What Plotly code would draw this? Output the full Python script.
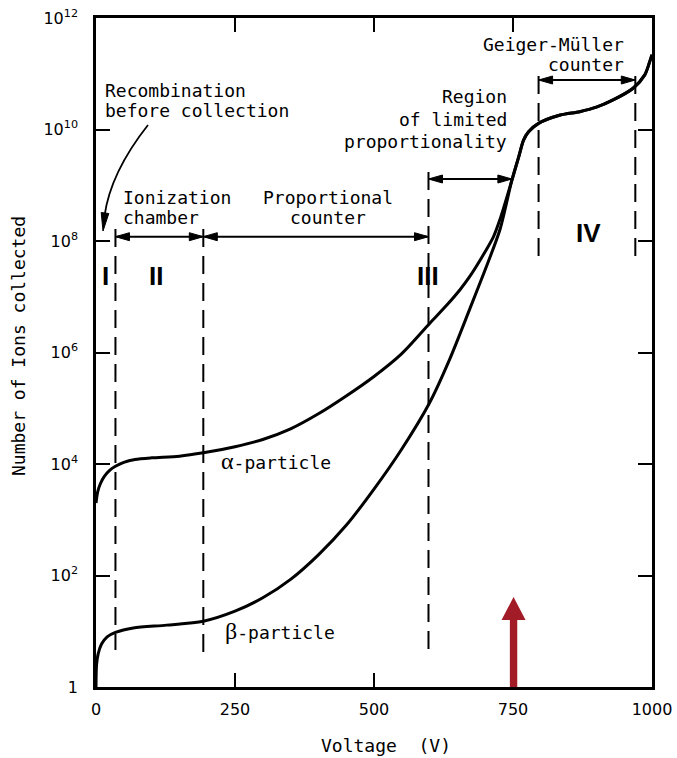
import plotly.graph_objects as go

# ---------------- data ----------------
alpha_voltage = [0, 3, 8, 15, 25, 35, 50, 70, 100, 150, 193, 250, 300, 350, 400,
                 450, 500, 550, 600, 631, 655, 672, 691, 715, 727]
alpha_log_ions = [3.30, 3.50, 3.65, 3.78, 3.89, 3.96, 4.03, 4.08, 4.11, 4.14, 4.20,
                  4.31, 4.44, 4.63, 4.90, 5.22, 5.57, 5.98, 6.52, 6.85, 7.13, 7.36,
                  7.66, 8.08, 8.40]

beta_voltage = [0, 1, 4, 10, 20, 35, 67, 127, 193, 250, 300, 350, 400, 450, 500,
                550, 600, 637, 673, 706, 727]
beta_log_ions = [0.0, 0.40, 0.60, 0.77, 0.90, 0.98, 1.06, 1.11, 1.18, 1.36, 1.60,
                 1.93, 2.37, 2.90, 3.55, 4.27, 5.10, 5.90, 6.80, 7.64, 8.22]

shared_voltage = [748, 760, 769, 778, 796, 835, 870, 900, 930, 966, 987, 996, 1000]
shared_log_ions = [9.09, 9.50, 9.81, 9.96, 10.11, 10.26, 10.32, 10.40, 10.53,
                   10.74, 10.98, 11.22, 11.34]

region_bounds = [35, 193, 598, 796, 970]
marker_voltage = 751

x_tick_vals = [0, 250, 500, 750, 1000]
y_tick_exps = [0, 2, 4, 6, 8, 10, 12]
y_tick_text = ["1", "10<sup>2</sup>", "10<sup>4</sup>", "10<sup>6</sup>",
               "10<sup>8</sup>", "10<sup>10</sup>", "10<sup>12</sup>"]

# ---------------- geometry helpers ----------------
W, H = 677, 758
ML, MR, MT, MB = 96, 25, 18, 71
PW, PH = W - ML - MR, H - MT - MB
BOTTOM = H - MB


def vx(px):            # pixel x -> voltage (data)
    return (px - ML) / PW * 1000


def xp(px):            # pixel x -> paper x
    return (px - ML) / PW


def yp(py):            # pixel y -> paper y
    return (BOTTOM - py) / PH


BLACK = "black"
mono = dict(family="DejaVu Sans Mono", size=18, color=BLACK)

fig = go.Figure()

fig.add_trace(go.Scatter(
    x=alpha_voltage + shared_voltage,
    y=[10 ** e for e in alpha_log_ions + shared_log_ions],
    mode="lines", line=dict(color=BLACK, width=3, shape="spline", smoothing=0.8),
    name="alpha", showlegend=False, hoverinfo="skip"))
fig.add_trace(go.Scatter(
    x=beta_voltage + shared_voltage,
    y=[10 ** e for e in beta_log_ions + shared_log_ions],
    mode="lines", line=dict(color=BLACK, width=3, shape="spline", smoothing=0.8),
    name="beta", showlegend=False, hoverinfo="skip"))

shapes = []
# dashed region boundaries (top pixel, bottom pixel)
dash_extent = [(229, 650), (229, 657), (172, 653), (76, 260), (76, 258)]
for v, (t, b) in zip(region_bounds, dash_extent):
    shapes.append(dict(type="line", xref="x", yref="paper", x0=v, x1=v,
                       y0=yp(t), y1=yp(b),
                       line=dict(color=BLACK, width=2, dash="18px,9px")))

# double arrows
head_v = 14 / PW * 1000
head_h = 4 / PH


def double_arrow(v0, v1, py):
    y = yp(py)
    shapes.append(dict(type="line", xref="x", yref="paper", x0=v0 + 2, x1=v1 - 2,
                       y0=y, y1=y, line=dict(color=BLACK, width=2)))
    for tip, sgn in ((v0, 1), (v1, -1)):
        base = tip + sgn * head_v
        shapes.append(dict(type="path", xref="x", yref="paper",
                           path=f"M {tip},{y} L {base},{y + head_h} L {base},{y - head_h} Z",
                           fillcolor=BLACK, line=dict(color=BLACK, width=1)))


double_arrow(region_bounds[0], region_bounds[1], 236.7)
double_arrow(region_bounds[1], region_bounds[2], 236.7)
double_arrow(region_bounds[2], shared_voltage[0], 179)
double_arrow(region_bounds[3], region_bounds[4], 80)

# curved arrow for "Recombination before collection"
p0 = (vx(148), yp(125))
c = (vx(110.5), yp(172.5))
p1 = (vx(104.5), yp(216))
shapes.append(dict(type="path", xref="x", yref="paper",
                   path=f"M {p0[0]},{p0[1]} Q {c[0]},{c[1]} {p1[0]},{p1[1]}",
                   line=dict(color=BLACK, width=1.8)))
shapes.append(dict(type="path", xref="x", yref="paper",
                   path=(f"M {vx(103)},{yp(231)} L {vx(108.8)},{yp(213.5)} "
                         f"L {vx(101.2)},{yp(212.5)} Z"),
                   fillcolor=BLACK, line=dict(color=BLACK, width=1)))

# red marker arrow
half_shaft = 3.7 / PW * 1000
half_head = 12 / PW * 1000
hb, tipy = yp(620), yp(597)
mv = marker_voltage
shapes.append(dict(type="path", xref="x", yref="paper",
                   path=(f"M {mv - half_shaft},0 L {mv - half_shaft},{hb} L {mv - half_head},{hb} "
                         f"L {mv},{tipy} L {mv + half_head},{hb} L {mv + half_shaft},{hb} "
                         f"L {mv + half_shaft},0 Z"),
                   fillcolor="#A21C27", line=dict(width=0)))

annotations = []


def txt(text, px, py, anchor="left", font=None, angle=0):
    annotations.append(dict(text=text, xref="paper", yref="paper", x=xp(px), y=yp(py),
                            xanchor=anchor, yanchor="middle", showarrow=False,
                            font=font or mono, textangle=angle))


txt("Recombination", 103, 91)
txt("before collection", 103, 111)
txt("Ionization", 121, 197)
txt("chamber", 121, 217)
txt("Proportional", 328, 197, "center")
txt("counter", 328, 217, "center")
txt("Region", 509, 96, "right")
txt("of limited", 509, 119, "right")
txt("proportionality", 509, 141, "right")
txt("Geiger-Müller", 626, 44, "right")
txt("counter", 626, 64, "right")

roman = dict(family="Liberation Sans", size=26, color=BLACK, weight="bold")
txt("I", 105, 276, "center", roman)
txt("II", 155.5, 276, "center", roman)
txt("III", 428, 276, "center", roman)
txt("IV", 588, 233, "center", roman)

greek = "font-family:'Liberation Serif';font-size:24px"
txt(f"<span style=\"{greek}\">α</span>-particle", 219, 461)
txt(f"<span style=\"{greek}\">β</span>-particle", 223, 631)

txt("Number of Ions collected", 18, 346, "center", mono, -90)
txt("Voltage\u00a0 (V)", 386, 745, "center", mono)

tickfont = dict(family="DejaVu Sans", size=16, color=BLACK)
fig.update_layout(
    width=W, height=H, autosize=False,
    margin=dict(l=ML, r=MR, t=MT, b=MB, pad=0, autoexpand=False),
    paper_bgcolor="white", plot_bgcolor="white",
    showlegend=False,
    shapes=shapes, annotations=annotations,
    xaxis=dict(range=[0, 1000], showline=True, linewidth=2.5, linecolor=BLACK,
               mirror="ticks", ticks="inside", ticklen=14, tickwidth=2,
               tickcolor=BLACK, tickvals=x_tick_vals, showgrid=False,
               zeroline=False, ticklabelstandoff=6, automargin=False,
               tickfont=tickfont),
    yaxis=dict(type="log", range=[0, 12], showline=True, linewidth=2.5,
               linecolor=BLACK, mirror="ticks", ticks="inside", ticklen=14,
               tickwidth=2, tickcolor=BLACK,
               tickvals=[10 ** e for e in y_tick_exps], ticktext=y_tick_text,
               showgrid=False, zeroline=False, ticklabelstandoff=12,
               automargin=False, tickfont=tickfont),
)

fig.write_html("out.html")
